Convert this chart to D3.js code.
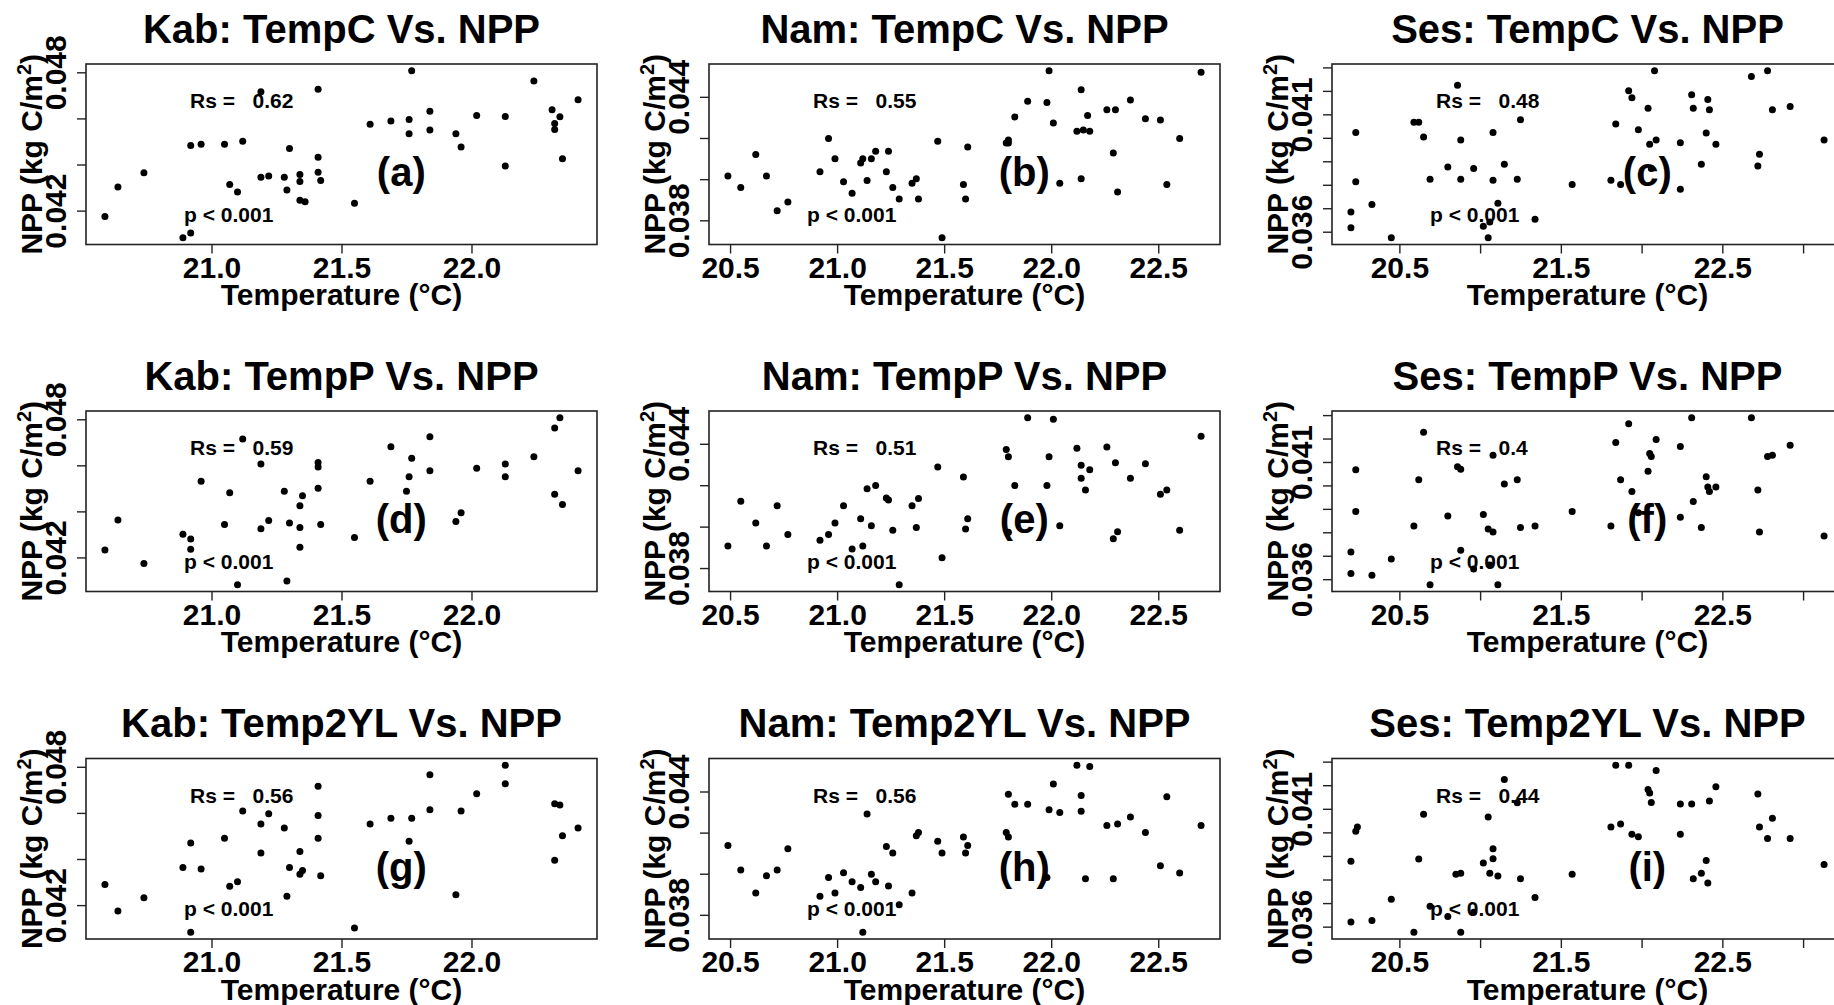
<!DOCTYPE html>
<html>
<head>
<meta charset="utf-8">
<script src="https://cdn.jsdelivr.net/npm/d3@7"></script>
<style>
  body { margin: 0; background: #fff; }
  svg text { font-family: 'Liberation Sans', Arial, Helvetica, sans-serif; font-weight: bold; fill: #000; }
</style>
</head>
<body>
<div id="chart"></div>
<script>
// Panel labels / stats
var sites = ["Kab", "Nam", "Ses"];
var tempVars = ["TempC", "TempP", "Temp2YL"];
var panelLetters = ["(a)", "(b)", "(c)", "(d)", "(e)", "(f)", "(g)", "(h)", "(i)"];
var rsValues = ["0.62", "0.55", "0.48", "0.59", "0.51", "0.4", "0.56", "0.56", "0.44"];
var pLabel = "p < 0.001";

// Axis ticks per site (column)
var xTicks = [[21.0, 21.5, 22.0], [20.5, 21.0, 21.5, 22.0, 22.5], [20.5, 21.0, 21.5, 22.0, 22.5, 23.0]];
var xTickLabels = [["21.0", "21.5", "22.0"], ["20.5", "21.0", "21.5", "22.0", "22.5"], ["20.5", "21.5", "22.5"]];
var yTicks = [[0.042, 0.044, 0.046, 0.048], [0.038, 0.040, 0.042, 0.044], [0.036, 0.037, 0.038, 0.039, 0.040, 0.041, 0.042, 0.043]];
var yTickLabels = [["0.042", "0.048"], ["0.038", "0.044"], ["0.036", "0.041"]];

// [temperature (degC), NPP (kg C/m2)]
var kabTempC = [[20.59,0.04175],[20.64,0.04302],[20.74,0.04364],[20.89,0.04082],[20.92,0.04103],[20.92,0.04482],[20.96,0.04488],[21.05,0.04488],[21.12,0.04501],[21.07,0.04313],[21.10,0.04281],[21.19,0.04716],[21.19,0.04345],[21.22,0.04350],[21.28,0.04345],[21.29,0.04289],[21.30,0.04469],[21.34,0.04357],[21.34,0.04326],[21.34,0.04245],[21.36,0.04238],[21.41,0.04432],[21.41,0.04366],[21.42,0.04331],[21.41,0.04726],[21.55,0.04232],[21.61,0.04575],[21.69,0.04589],[21.76,0.04595],[21.76,0.04533],[21.77,0.04807],[21.84,0.04550],[21.84,0.04631],[21.94,0.04533],[21.96,0.04476],[22.02,0.04613],[22.13,0.04393],[22.13,0.04608],[22.24,0.04762],[22.31,0.04637],[22.32,0.04578],[22.32,0.04552],[22.34,0.04607],[22.35,0.04425],[22.41,0.04681]];
var namTempC = [[20.49,0.04015],[20.55,0.03959],[20.62,0.04120],[20.67,0.04015],[20.72,0.03847],[20.77,0.03889],[20.92,0.04036],[20.96,0.04198],[20.99,0.04099],[21.03,0.03987],[21.07,0.03932],[21.11,0.04078],[21.12,0.04099],[21.14,0.03993],[21.16,0.04099],[21.18,0.04135],[21.23,0.04036],[21.24,0.04135],[21.26,0.03959],[21.29,0.03904],[21.35,0.03980],[21.37,0.04002],[21.38,0.03904],[21.47,0.04184],[21.49,0.03715],[21.59,0.03974],[21.60,0.03904],[21.61,0.04156],[21.79,0.04176],[21.80,0.04190],[21.80,0.04176],[21.83,0.04302],[21.89,0.04379],[21.98,0.04372],[21.99,0.04527],[22.01,0.04273],[22.04,0.03980],[22.12,0.04233],[22.14,0.04002],[22.14,0.04434],[22.15,0.04239],[22.17,0.04309],[22.18,0.04233],[22.26,0.04337],[22.29,0.04127],[22.30,0.04337],[22.31,0.03938],[22.37,0.04385],[22.44,0.04294],[22.51,0.04288],[22.54,0.03974],[22.60,0.04198],[22.70,0.04519]];
var sesTempC = [[20.20,0.03684],[20.20,0.03617],[20.23,0.04023],[20.23,0.03813],[20.33,0.03716],[20.45,0.03574],[20.59,0.04066],[20.62,0.04066],[20.65,0.04003],[20.69,0.03824],[20.80,0.03876],[20.86,0.04224],[20.88,0.03991],[20.88,0.03824],[20.96,0.03869],[21.02,0.03623],[21.05,0.03574],[21.06,0.03641],[21.08,0.04023],[21.08,0.03819],[21.11,0.03721],[21.15,0.03887],[21.23,0.03824],[21.25,0.04077],[21.34,0.03653],[21.57,0.03801],[21.81,0.03819],[21.84,0.04059],[21.87,0.03801],[21.92,0.04200],[21.94,0.04171],[21.98,0.04034],[22.04,0.04126],[22.05,0.03973],[22.06,0.03869],[22.08,0.04286],[22.09,0.03991],[22.24,0.03979],[22.24,0.03781],[22.31,0.04183],[22.32,0.04126],[22.37,0.03887],[22.40,0.04021],[22.41,0.04163],[22.42,0.04120],[22.46,0.03973],[22.68,0.04261],[22.78,0.04286],[22.73,0.03930],[22.72,0.03880],[22.81,0.04120],[22.92,0.04133],[23.13,0.03991]];
var kabTempP = [[20.59,0.04232],[20.64,0.04363],[20.74,0.04174],[20.89,0.04301],[20.92,0.04280],[20.92,0.04236],[20.96,0.04531],[21.05,0.04343],[21.07,0.04481],[21.10,0.04081],[21.12,0.04714],[21.19,0.04606],[21.19,0.04324],[21.22,0.04360],[21.28,0.04487],[21.29,0.04098],[21.30,0.04349],[21.34,0.04244],[21.34,0.04424],[21.35,0.04468],[21.34,0.04330],[21.41,0.04500],[21.41,0.04593],[21.41,0.04612],[21.42,0.04343],[21.55,0.04287],[21.61,0.04531],[21.69,0.04681],[21.75,0.04487],[21.76,0.04550],[21.77,0.04631],[21.84,0.04724],[21.84,0.04576],[21.94,0.04356],[21.96,0.04394],[22.02,0.04587],[22.13,0.04606],[22.13,0.04550],[22.24,0.04637],[22.32,0.04762],[22.34,0.04807],[22.32,0.04474],[22.35,0.04430],[22.41,0.04576]];
var namTempP = [[20.49,0.03907],[20.55,0.04122],[20.62,0.04017],[20.67,0.03907],[20.72,0.04101],[20.77,0.03962],[20.92,0.03934],[20.96,0.03962],[20.99,0.04017],[21.03,0.04101],[21.07,0.03892],[21.11,0.04038],[21.12,0.03907],[21.14,0.04183],[21.16,0.04004],[21.18,0.04198],[21.23,0.04138],[21.24,0.04128],[21.26,0.03983],[21.29,0.03719],[21.35,0.04101],[21.37,0.03996],[21.38,0.04136],[21.47,0.04288],[21.49,0.03850],[21.59,0.04240],[21.60,0.03989],[21.61,0.04038],[21.79,0.04372],[21.80,0.04337],[21.80,0.03973],[21.83,0.04198],[21.89,0.04526],[21.98,0.04198],[21.99,0.04337],[22.01,0.04518],[22.04,0.04004],[22.12,0.04379],[22.14,0.04296],[22.14,0.04233],[22.16,0.04177],[22.18,0.04275],[22.26,0.04385],[22.29,0.03941],[22.30,0.04309],[22.31,0.03975],[22.37,0.04233],[22.44,0.04303],[22.51,0.04156],[22.54,0.04177],[22.60,0.03983],[22.70,0.04436]];
var sesTempP = [[20.20,0.03716],[20.20,0.03624],[20.23,0.04067],[20.23,0.03889],[20.33,0.03617],[20.45,0.03686],[20.59,0.03827],[20.62,0.04024],[20.65,0.04227],[20.69,0.03576],[20.80,0.03870],[20.86,0.04080],[20.88,0.04069],[20.88,0.03723],[20.96,0.03643],[21.02,0.03876],[21.05,0.03814],[21.06,0.03660],[21.08,0.04129],[21.08,0.03801],[21.11,0.03576],[21.15,0.04006],[21.23,0.04024],[21.25,0.03821],[21.34,0.03827],[21.57,0.03889],[21.81,0.03827],[21.84,0.04183],[21.87,0.04024],[21.92,0.04263],[21.94,0.03974],[21.98,0.03883],[22.04,0.04060],[22.05,0.04136],[22.06,0.04123],[22.09,0.04196],[22.24,0.04166],[22.24,0.03864],[22.31,0.04289],[22.32,0.03931],[22.37,0.03821],[22.40,0.04037],[22.41,0.03993],[22.42,0.03974],[22.46,0.03993],[22.68,0.04289],[22.72,0.03980],[22.73,0.03801],[22.78,0.04123],[22.81,0.04129],[22.92,0.04171],[23.13,0.03784]];
var kabTemp2YL = [[20.59,0.04289],[20.64,0.04175],[20.74,0.04232],[20.89,0.04363],[20.92,0.04082],[20.92,0.04469],[20.96,0.04357],[21.05,0.04490],[21.07,0.04282],[21.10,0.04301],[21.12,0.04608],[21.19,0.04552],[21.19,0.04426],[21.22,0.04596],[21.28,0.04534],[21.29,0.04238],[21.30,0.04363],[21.34,0.04334],[21.34,0.04433],[21.35,0.04350],[21.41,0.04716],[21.41,0.04589],[21.41,0.04490],[21.42,0.04327],[21.55,0.04101],[21.61,0.04552],[21.69,0.04577],[21.76,0.04477],[21.77,0.04577],[21.84,0.04614],[21.84,0.04765],[21.94,0.04245],[21.96,0.04608],[22.02,0.04683],[22.13,0.04807],[22.13,0.04726],[22.32,0.04640],[22.34,0.04634],[22.32,0.04395],[22.35,0.04501],[22.41,0.04534]];
var namTemp2YL = [[20.49,0.04137],[20.55,0.04018],[20.62,0.03906],[20.67,0.03990],[20.72,0.04018],[20.77,0.04122],[20.92,0.03891],[20.96,0.03982],[20.99,0.03906],[21.03,0.04005],[21.07,0.03961],[21.11,0.03933],[21.12,0.03715],[21.14,0.04291],[21.16,0.03998],[21.18,0.03961],[21.23,0.04132],[21.24,0.03940],[21.26,0.04101],[21.29,0.03849],[21.35,0.03906],[21.37,0.04185],[21.38,0.04200],[21.47,0.04158],[21.49,0.04101],[21.59,0.04179],[21.60,0.04101],[21.61,0.04137],[21.79,0.04200],[21.80,0.04179],[21.80,0.04387],[21.83,0.04338],[21.89,0.04338],[21.98,0.03982],[21.99,0.04311],[22.01,0.04436],[22.04,0.04298],[22.12,0.04528],[22.14,0.04380],[22.14,0.04304],[22.16,0.03976],[22.18,0.04522],[22.26,0.04234],[22.29,0.03976],[22.31,0.04242],[22.37,0.04276],[22.44,0.04200],[22.51,0.04039],[22.54,0.04374],[22.60,0.04003],[22.70,0.04234]];
var sesTemp2YL = [[20.20,0.03877],[20.20,0.03620],[20.23,0.04005],[20.24,0.04023],[20.33,0.03626],[20.45,0.03716],[20.59,0.03576],[20.62,0.03887],[20.65,0.04077],[20.69,0.03687],[20.80,0.03643],[20.85,0.03822],[20.88,0.03827],[20.88,0.03576],[20.96,0.03661],[21.02,0.03870],[21.05,0.04065],[21.06,0.03827],[21.08,0.03931],[21.08,0.03888],[21.11,0.03815],[21.15,0.04224],[21.23,0.04126],[21.25,0.03803],[21.34,0.03724],[21.57,0.03822],[21.81,0.04023],[21.84,0.04285],[21.87,0.04035],[21.92,0.04285],[21.94,0.03992],[21.98,0.03981],[22.04,0.04182],[22.05,0.04167],[22.06,0.04127],[22.09,0.04262],[22.24,0.04120],[22.24,0.03992],[22.31,0.04120],[22.32,0.03803],[22.37,0.03827],[22.40,0.03881],[22.41,0.03785],[22.42,0.04133],[22.46,0.04194],[22.72,0.04163],[22.73,0.04023],[22.78,0.03974],[22.81,0.04060],[22.92,0.03974],[23.13,0.03864]];

var panelData = [kabTempC, namTempC, sesTempC, kabTempP, namTempP, sesTempP, kabTemp2YL, namTemp2YL, sesTemp2YL];

// Layout
var W = 1834, H = 1005;
var colLeft = [86, 709, 1332];
var rowTop = [64, 411, 758.5];
var boxW = 511, boxH = 180.5;

var svg = d3.select("#chart").append("svg")
    .attr("width", W)
    .attr("height", H)
    .style("display", "block");

svg.append("rect").attr("width", W).attr("height", H).attr("fill", "#fff");

// R style axis limits: data range padded by 4% each side
function padded(ext) {
    var d = (ext[1] - ext[0]) * 0.04;
    return [ext[0] - d, ext[1] + d];
}

panelData.forEach(function(data, i) {
    var row = Math.floor(i / 3), col = i % 3;
    var g = svg.append("g")
        .attr("transform", "translate(" + colLeft[col] + "," + rowTop[row] + ")");

    var x = d3.scaleLinear().domain(padded(d3.extent(data, d => d[0]))).range([0, boxW]);
    var y = d3.scaleLinear().domain(padded(d3.extent(data, d => d[1]))).range([boxH, 0]);

    // points
    g.selectAll("circle")
        .data(data)
        .enter().append("circle")
        .attr("cx", d => x(d[0]))
        .attr("cy", d => y(d[1]))
        .attr("r", 3.5)
        .attr("fill", "#000");

    // box
    g.append("rect")
        .attr("width", boxW)
        .attr("height", boxH)
        .attr("fill", "none")
        .attr("stroke", "#222")
        .attr("stroke-width", 1.6);

    // x axis
    var xa = g.append("g")
        .attr("transform", "translate(0," + boxH + ")")
        .call(d3.axisBottom(x)
            .tickValues(xTicks[col])
            .tickSize(9)
            .tickFormat(function(v) {
                var s = d3.format(".1f")(v);
                return xTickLabels[col].includes(s) ? s : "";
            }));
    xa.select(".domain").remove();
    xa.selectAll(".tick line").attr("stroke", "#222").attr("stroke-width", 1.4);
    xa.selectAll(".tick text")
        .attr("y", 33)
        .attr("dy", 0)
        .style("font-size", "30px");

    // y axis (labels parallel to axis)
    var ya = g.append("g")
        .call(d3.axisLeft(y)
            .tickValues(yTicks[col])
            .tickSize(9)
            .tickFormat(function(v) {
                var s = d3.format(".3f")(v);
                return yTickLabels[col].includes(s) ? s : "";
            }));
    ya.select(".domain").remove();
    ya.selectAll(".tick line").attr("stroke", "#222").attr("stroke-width", 1.4);
    ya.selectAll(".tick text")
        .attr("x", 0)
        .attr("y", 0)
        .attr("dy", 0)
        .attr("text-anchor", "middle")
        .attr("transform", "translate(-20,0) rotate(-90)")
        .style("font-size", "30px");

    // title
    g.append("text")
        .attr("x", boxW / 2)
        .attr("y", -21.5)
        .attr("text-anchor", "middle")
        .style("font-size", "40px")
        .text(sites[col] + ": " + tempVars[row] + " Vs. NPP");

    // axis titles
    g.append("text")
        .attr("x", boxW / 2)
        .attr("y", boxH + 60.5)
        .attr("text-anchor", "middle")
        .style("font-size", "30px")
        .text("Temperature (\u00B0C)");

    var yl = g.append("text")
        .attr("transform", "translate(-44.5," + (boxH / 2) + ") rotate(-90)")
        .attr("text-anchor", "middle")
        .style("font-size", "30px");
    yl.append("tspan").text("NPP (kg C/m");
    yl.append("tspan").attr("dy", -11).style("font-size", "20px").text("2");
    yl.append("tspan").attr("dy", 11).text(")");

    // stats
    g.append("text")
        .attr("x", 104)
        .attr("y", 44.3)
        .style("font-size", "21px")
        .style("white-space", "pre")
        .text("Rs =   " + rsValues[i]);

    g.append("text")
        .attr("x", 98)
        .attr("y", 157.7)
        .style("font-size", "21px")
        .text(pLabel);

    // panel letter
    g.append("text")
        .attr("x", boxW * 0.617)
        .attr("y", 122)
        .attr("text-anchor", "middle")
        .style("font-size", "40px")
        .text(panelLetters[i]);
});
</script>
</body>
</html>
